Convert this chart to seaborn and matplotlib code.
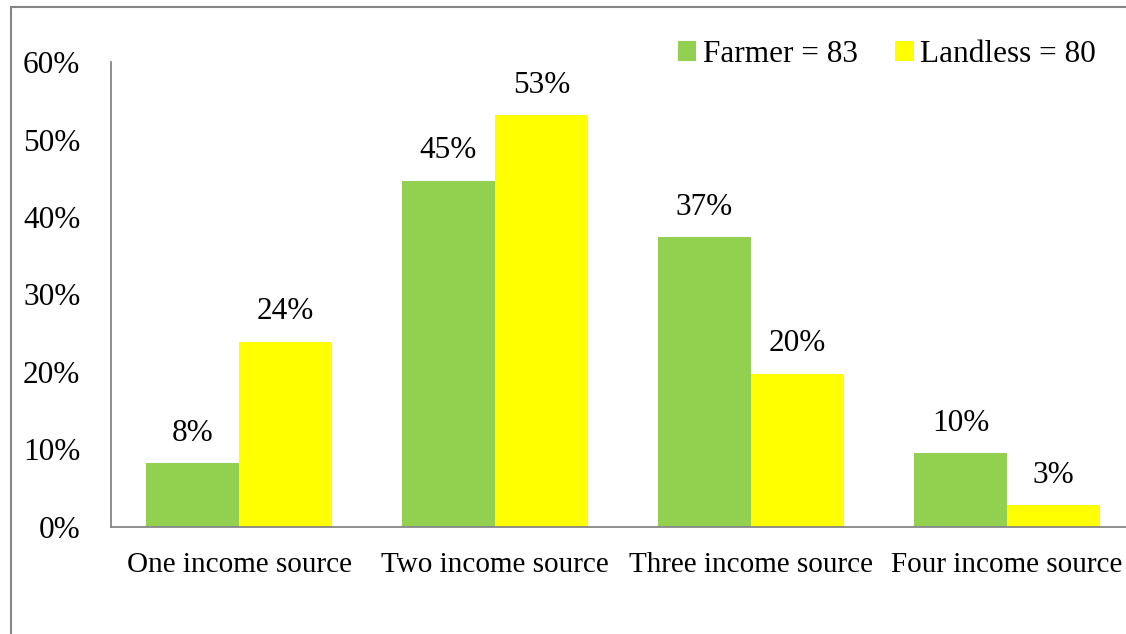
import pandas as pd
import matplotlib.pyplot as plt
import seaborn as sns
from matplotlib.patches import Rectangle

categories = ["One income source", "Two income source", "Three income source", "Four income source"]
farmer = [8.2, 44.7, 37.4, 9.5]
landless = [23.9, 53.1, 19.8, 2.8]
farmer_labels = ["8%", "45%", "37%", "10%"]
landless_labels = ["24%", "53%", "20%", "3%"]
series = ["Farmer = 83", "Landless = 80"]

df = pd.DataFrame({
    "category": categories * 2,
    "group": [series[0]] * 4 + [series[1]] * 4,
    "value": [v / 100 for v in farmer + landless],
})

sns.set_style("white")
plt.rcParams["font.family"] = ["Liberation Serif", "DejaVu Serif"]
plt.rcParams["text.color"] = "black"
plt.rcParams["xtick.color"] = "black"
plt.rcParams["ytick.color"] = "black"

FS = 22.5

fig = plt.figure(figsize=(11.26, 6.34), dpi=100)
ax = fig.add_axes([0.0986, 0.1688, 0.9094, 0.7334])

sns.barplot(data=df, x="category", y="value", hue="group",
            palette=["#92D050", "#FFFF00"], width=0.727, ax=ax,
            saturation=1, linewidth=0)

# value labels above bars
for cont, labels in zip(ax.containers, [farmer_labels, landless_labels]):
    for bar, lab in zip(cont, labels):
        ax.annotate(lab, (bar.get_x() + bar.get_width() / 2, bar.get_height()),
                    xytext=(0, 11), textcoords="offset points",
                    ha="center", va="bottom", fontsize=FS)

ax.set_xlim(-0.5, 3.5)
ax.set_ylim(0, 0.6)
ax.set_yticks([0, 0.1, 0.2, 0.3, 0.4, 0.5, 0.6])
ax.set_yticklabels(["0%", "10%", "20%", "30%", "40%", "50%", "60%"])
ax.tick_params(axis="both", length=0)
ax.tick_params(axis="y", pad=22, labelsize=FS)
ax.tick_params(axis="x", pad=18, labelsize=21)
ax.set_xlabel("")
ax.set_ylabel("")

for s in ["top", "right"]:
    ax.spines[s].set_visible(False)
for s in ["left", "bottom"]:
    ax.spines[s].set_color("#868686")
    ax.spines[s].set_linewidth(1.3)
ax.spines["bottom"].set_clip_on(False)

ax.legend(loc="upper right", bbox_to_anchor=(0.974, 1.075), ncol=2, frameon=False,
          fontsize=FS, handlelength=0.6, handleheight=0.6, handletextpad=0.2,
          columnspacing=1.2, borderaxespad=0)

# chart border (partly outside the image on right/bottom)
fig.patches.append(Rectangle((11 / 1126, -0.05), 1.2, 1 - 7 / 634 + 0.05,
                             transform=fig.transFigure, fill=False,
                             edgecolor="#868686", linewidth=1.5))

fig.savefig("out.png", dpi=100)
